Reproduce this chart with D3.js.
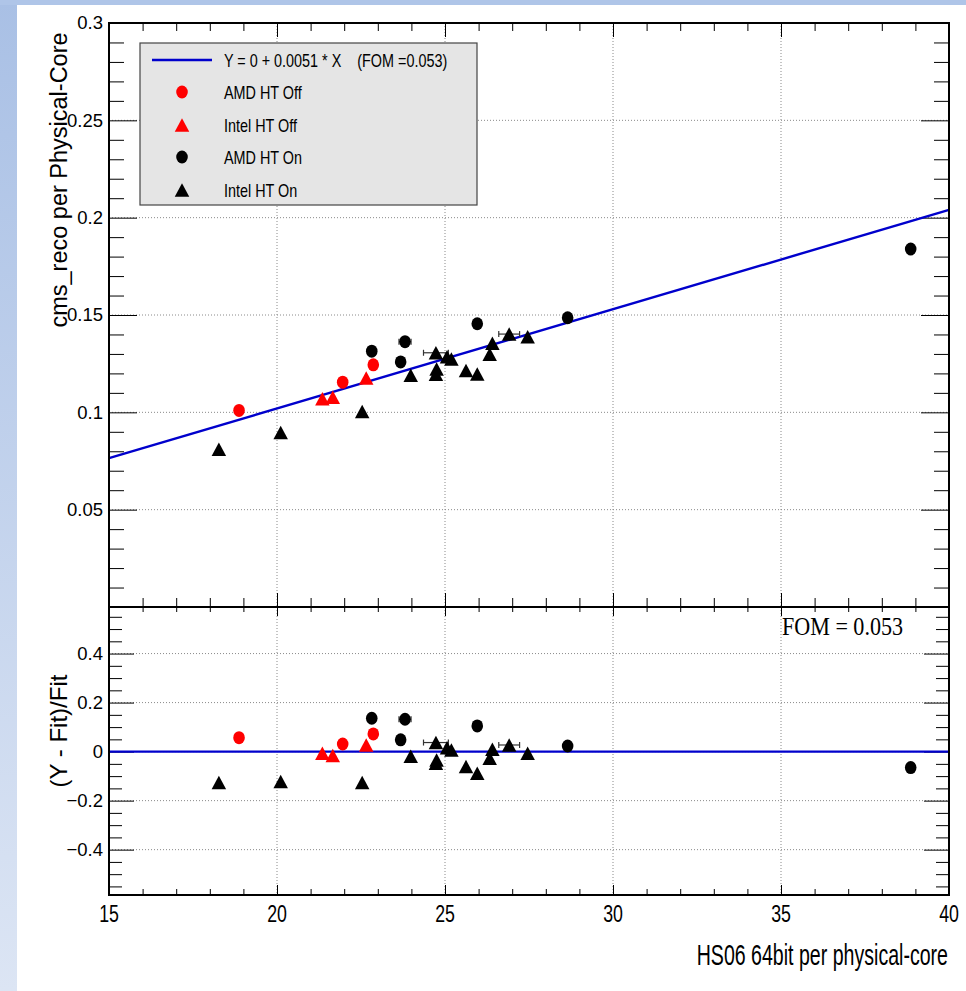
<!DOCTYPE html>
<html>
<head>
<meta charset="utf-8">
<script src="https://cdn.jsdelivr.net/npm/d3@7"></script>
<style>
  html, body { margin: 0; padding: 0; background: #fff; }
  svg { display: block; }
  text { fill: #000; }
</style>
</head>
<body>
<svg id="chart" width="966" height="991"></svg>
<script>
// ---- data ----
const xTicks = [15, 20, 25, 30, 35, 40];
const yTopTicks = [0.05, 0.1, 0.15, 0.2, 0.25, 0.3];
const yTopTickLabels = ["0.05", "0.1", "0.15", "0.2", "0.25", "0.3"];
const yBotTicks = [-0.4, -0.2, 0, 0.2, 0.4];
const yBotTickLabels = ["\u22120.4", "\u22120.2", "0", "0.2", "0.4"];

const fitIntercept = 0;
const fitSlope = 0.0051;
const fom = 0.053;

// AMD, hyper-threading off
const amdOffX   = [18.87, 21.955, 22.866];
const amdOffY   = [0.1010, 0.1155, 0.1244];
const amdOffRes = [0.057, 0.031, 0.072];

// Intel, hyper-threading off
const intelOffX   = [21.35, 21.66, 22.655];
const intelOffY   = [0.1070, 0.1078, 0.1176];
const intelOffRes = [-0.007, -0.016, 0.027];

// AMD, hyper-threading on
const amdOnX    = [22.82, 23.68, 23.81, 25.96, 28.65, 38.86];
const amdOnY    = [0.1314, 0.1259, 0.1363, 0.1455, 0.1486, 0.1839];
const amdOnRes  = [0.136, 0.048, 0.132, 0.105, 0.023, -0.065];
const amdOnXErr = [0, 0, 0.18, 0, 0, 0];

// Intel, hyper-threading on
const intelOnX    = [18.27, 20.11, 22.535, 23.98, 24.73, 24.75, 24.73, 25.06, 25.19, 25.625, 25.96, 26.41, 26.33, 26.91, 27.46];
const intelOnY    = [0.0810, 0.0897, 0.1004, 0.1191, 0.1306, 0.1223, 0.1195, 0.1285, 0.1274, 0.1215, 0.1197, 0.1355, 0.1299, 0.1402, 0.1388];
const intelOnRes  = [-0.126, -0.122, -0.126, -0.019, 0.037, -0.034, -0.047, 0.016, 0.007, -0.061, -0.088, 0.010, -0.027, 0.027, -0.007];
const intelOnXErr = [0, 0, 0, 0, 0.37, 0, 0, 0, 0, 0, 0, 0, 0, 0.31, 0];

const legendLabels = ["Y = 0 + 0.0051 * X    (FOM =0.053)", "AMD HT Off", "Intel HT Off", "AMD HT On", "Intel HT On"];
const xTitle = "HS06 64bit per physical-core";
const yTopTitle = "cms_reco per Physical-Core";
const yBotTitle = "(Y - Fit)/Fit";

// ---- series table built from the arrays ----
const zip = (xs, ys, rs, es, colour, shape) =>
  xs.map((x, i) => ({ x, y: ys[i], r: rs[i], e: es ? es[i] : 0, colour, shape }));
const series = [
  zip(intelOnX, intelOnY, intelOnRes, intelOnXErr, "#000", "tri"),
  zip(amdOnX, amdOnY, amdOnRes, amdOnXErr, "#000", "circ"),
  zip(amdOffX, amdOffY, amdOffRes, null, "#ff0000", "circ"),
  zip(intelOffX, intelOffY, intelOffRes, null, "#ff0000", "tri")
];
const points = series.flat();

// ---- layout ----
const SANS = "'Liberation Sans', Arial, Helvetica, sans-serif";
const SERIF = "'Liberation Serif', 'Times New Roman', serif";
const svg = d3.select("#chart").style("font-family", SANS);
const L = 109, R = 949, T = 23, MID = 607, B = 895;

const x = d3.scaleLinear().domain([15, 40]).range([L, R]);
const yTop = d3.scaleLinear().domain([0, 0.3]).range([MID, T]);
const yBot = d3.scaleLinear().domain([-0.585, 0.59]).range([B, MID]);

// page background
const defs = svg.append("defs");
const grad = defs.append("linearGradient").attr("id", "sideFade")
  .attr("x1", 0).attr("y1", 0).attr("x2", 0).attr("y2", 1);
grad.append("stop").attr("offset", "0%").attr("stop-color", "#a9c0e5");
grad.append("stop").attr("offset", "100%").attr("stop-color", "#dce5f4");
svg.append("rect").attr("x", 0).attr("y", 0).attr("width", 966).attr("height", 991).attr("fill", "#fff");
svg.append("rect").attr("x", 0).attr("y", 0).attr("width", 17).attr("height", 991).attr("fill", "url(#sideFade)");
svg.append("rect").attr("x", 0).attr("y", 0).attr("width", 966).attr("height", 5).attr("fill", "#afc5e8");

// ---- grids ----
const gridStyle = s => s.attr("stroke", "#8a8a8a").attr("stroke-width", 1).attr("stroke-dasharray", "1,2").attr("fill", "none");
const gx = [20, 25, 30, 35];
[[T, MID], [MID, B]].forEach(([y0, y1]) => {
  svg.append("g").selectAll("line").data(gx).join("line")
    .attr("x1", d => x(d)).attr("x2", d => x(d)).attr("y1", y0).attr("y2", y1).call(gridStyle);
});
svg.append("g").selectAll("line").data(yTopTicks.filter(v => v < 0.3)).join("line")
  .attr("x1", L).attr("x2", R).attr("y1", d => yTop(d)).attr("y2", d => yTop(d)).call(gridStyle);
svg.append("g").selectAll("line").data(yBotTicks).join("line")
  .attr("x1", L).attr("x2", R).attr("y1", d => yBot(d)).attr("y2", d => yBot(d)).call(gridStyle);

// ---- ticks via d3 axes ----
function tickAxis(axisFn, scale, values, size, transform) {
  const ax = axisFn(scale).tickValues(values).tickSize(size).tickFormat("");
  const g = svg.append("g").attr("transform", transform).call(ax);
  g.select(".domain").remove();
  g.selectAll(".tick line").attr("stroke", "#000").attr("stroke-width", 1);
  return g;
}
const xMinor = d3.range(15, 40.001, 1).filter(v => v % 5 !== 0);
const xMajor = xTicks;
const yTopMinor = d3.range(0, 0.3001, 0.01).map(v => +v.toFixed(2)).filter(v => Math.round(v * 100) % 5 !== 0);
const yTopMajor = [0, ...yTopTicks];
const yBotMinor = d3.range(-0.55, 0.5501, 0.05).map(v => +v.toFixed(2)).filter(v => Math.round(v * 100) % 20 !== 0);
const yBotMajor = yBotTicks;

// top panel: x ticks on top (inward = down) and at bottom edge (inward = up)
tickAxis(d3.axisTop, x, xMinor, -8, `translate(0,${T})`);
tickAxis(d3.axisTop, x, xMajor, -14, `translate(0,${T})`);
tickAxis(d3.axisBottom, x, xMinor, -9, `translate(0,${MID})`);
tickAxis(d3.axisBottom, x, xMajor, -14, `translate(0,${MID})`);
// top panel: y ticks left/right
tickAxis(d3.axisLeft, yTop, yTopMinor, -15, `translate(${L},0)`);
tickAxis(d3.axisLeft, yTop, yTopMajor, -28, `translate(${L},0)`);
tickAxis(d3.axisRight, yTop, yTopMinor, -15, `translate(${R},0)`);
tickAxis(d3.axisRight, yTop, yTopMajor, -28, `translate(${R},0)`);
// bottom panel: x ticks
tickAxis(d3.axisTop, x, xMinor, -5, `translate(0,${MID})`);
tickAxis(d3.axisTop, x, xMajor, -9, `translate(0,${MID})`);
tickAxis(d3.axisBottom, x, xMinor, -6, `translate(0,${B})`);
tickAxis(d3.axisBottom, x, xMajor, -10, `translate(0,${B})`);
// bottom panel: y ticks
tickAxis(d3.axisLeft, yBot, yBotMinor, -13, `translate(${L},0)`);
tickAxis(d3.axisLeft, yBot, yBotMajor, -25, `translate(${L},0)`);
tickAxis(d3.axisRight, yBot, yBotMinor, -13, `translate(${R},0)`);
tickAxis(d3.axisRight, yBot, yBotMajor, -25, `translate(${R},0)`);

// ---- fit lines ----
const fit = v => fitIntercept + fitSlope * v;
svg.append("line")
  .attr("x1", x(15)).attr("y1", yTop(fit(15))).attr("x2", x(40)).attr("y2", yTop(fit(40)))
  .attr("stroke", "#0000cc").attr("stroke-width", 2.4);
svg.append("line")
  .attr("x1", L).attr("x2", R).attr("y1", yBot(0)).attr("y2", yBot(0))
  .attr("stroke", "#0000cc").attr("stroke-width", 2.4);

// ---- markers ----
const TRI_W = 14.5, TRI_H = 13.5;
const triPath = `M0,${-TRI_H / 2}L${TRI_W / 2},${TRI_H / 2}L${-TRI_W / 2},${TRI_H / 2}Z`;
function drawMarker(g, d, cx, cy) {
  if (d.shape === "tri") {
    g.append("path").attr("d", triPath).attr("transform", `translate(${cx},${cy})`).attr("fill", d.colour);
  } else {
    g.append("ellipse").attr("cx", cx).attr("cy", cy).attr("rx", 5.8).attr("ry", 6.5).attr("fill", d.colour);
  }
}
function drawErr(g, d, cy) {
  if (!d.e) return;
  const x0 = x(d.x - d.e), x1 = x(d.x + d.e);
  g.append("line").attr("x1", x0).attr("x2", x1).attr("y1", cy).attr("y2", cy).attr("stroke", "#333").attr("stroke-width", 1.2);
  [x0, x1].forEach(xx => g.append("line").attr("x1", xx).attr("x2", xx).attr("y1", cy - 3).attr("y2", cy + 3).attr("stroke", "#333").attr("stroke-width", 1.2));
}
const gTop = svg.append("g");
const gBot = svg.append("g");
points.forEach(d => {
  drawErr(gTop, d, yTop(d.y));
  drawErr(gBot, d, yBot(d.r));
});
points.forEach(d => {
  drawMarker(gTop, d, x(d.x), yTop(d.y));
  drawMarker(gBot, d, x(d.x), yBot(d.r));
});

// ---- frames ----
svg.append("rect").attr("x", L).attr("y", T).attr("width", R - L).attr("height", MID - T)
  .attr("fill", "none").attr("stroke", "#000").attr("stroke-width", 2);
svg.append("rect").attr("x", L).attr("y", MID).attr("width", R - L).attr("height", B - MID)
  .attr("fill", "none").attr("stroke", "#000").attr("stroke-width", 2);

// ---- tick labels ----
const yLab = svg.append("g").attr("font-size", 18.5).attr("text-anchor", "end");
yTopTicks.forEach((v, i) => yLab.append("text").attr("x", 103).attr("y", yTop(v)).attr("dy", "0.35em").text(yTopTickLabels[i]));
yBotTicks.forEach((v, i) => yLab.append("text").attr("x", 103).attr("y", yBot(v)).attr("dy", "0.35em").text(yBotTickLabels[i]));

const xLab = svg.append("g").attr("font-size", 24).attr("text-anchor", "middle");
xTicks.forEach(v => xLab.append("text")
  .attr("transform", `translate(${x(v)},922) scale(0.74,1)`).text(v));

// ---- axis titles ----
svg.append("text").attr("font-size", 29).attr("text-anchor", "end")
  .attr("transform", `translate(948,965) scale(0.675,1)`).text(xTitle);
svg.append("text").attr("font-size", 23.5).attr("text-anchor", "middle")
  .attr("transform", `translate(67,180) rotate(-90)`).text(yTopTitle);
svg.append("text").attr("font-size", 24).attr("text-anchor", "middle")
  .attr("transform", `translate(67,731) rotate(-90)`).text(yBotTitle);

// FOM annotation
svg.append("text").style("font-family", SERIF).attr("font-size", 26)
  .attr("transform", `translate(782,635) scale(0.85,1)`).text(`FOM = ${fom}`);

// ---- legend ----
const lg = svg.append("g");
lg.append("rect").attr("x", 140).attr("y", 43).attr("width", 337).attr("height", 162)
  .attr("fill", "#e5e5e5").attr("stroke", "#444").attr("stroke-width", 1.2);
const rowY = [60, 92, 125, 157, 190];
lg.append("line").attr("x1", 152).attr("x2", 212).attr("y1", rowY[0]).attr("y2", rowY[0])
  .attr("stroke", "#0000cc").attr("stroke-width", 2.4);
const legendMarks = [
  { colour: "#ff0000", shape: "circ" },
  { colour: "#ff0000", shape: "tri" },
  { colour: "#000", shape: "circ" },
  { colour: "#000", shape: "tri" }
];
legendMarks.forEach((m, i) => drawMarker(lg, m, 182, rowY[i + 1]));
legendLabels.forEach((t, i) => lg.append("text")
  .attr("transform", `translate(224,${rowY[i] + 6.5}) scale(0.8,1)`)
  .attr("font-size", 18).style("white-space", "pre").text(t));
</script>
</body>
</html>
